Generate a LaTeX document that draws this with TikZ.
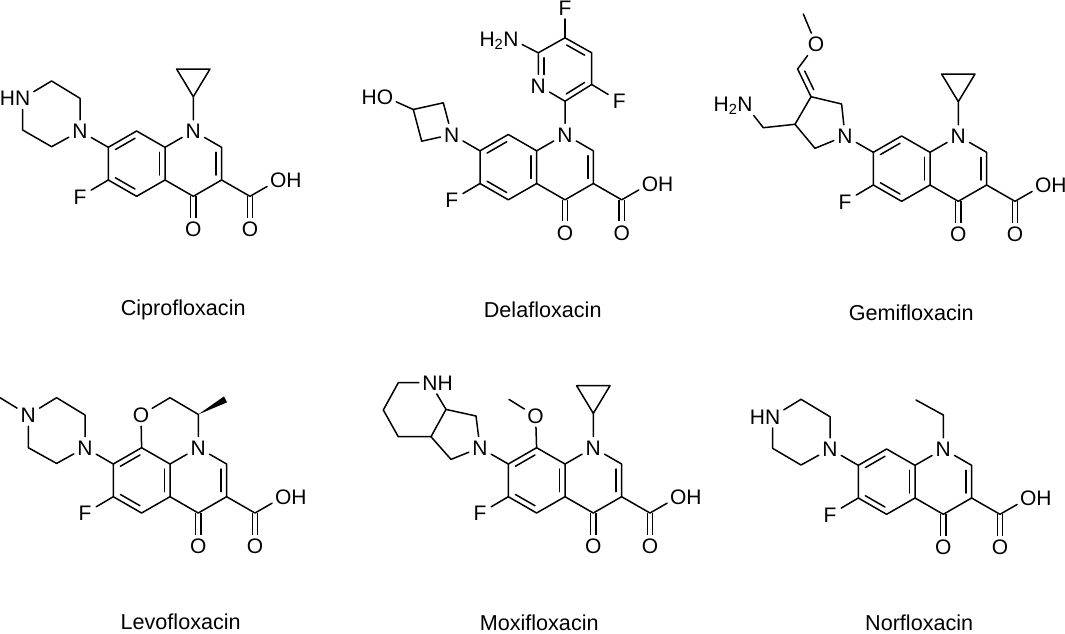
\documentclass[tikz,border=0pt]{standalone}
\usepackage{fontspec}
\setmainfont{Liberation Sans}
\usetikzlibrary{positioning,calc}
\tikzset{
  bond/.style={line width=1.5pt,line cap=round,line join=round},
  dblbond/.style={line width=1.5pt,double,double distance=3.8pt},
  atom/.style={rectangle,inner sep=0pt,minimum size=22pt,text height=15pt,text depth=0pt,
    font=\fontsize{21}{21}\selectfont},
  drugname/.style={anchor=base,inner sep=0pt,font=\fontsize{21.6}{22}\selectfont}
}
% inner line of a double bond, on the left of a->b
\newcommand{\inbond}[3][5pt]{\draw[bond,shorten <=5pt,shorten >=#1]
  ($(#2)!5.5pt!90:(#3)$) -- ($(#3)!5.5pt!-90:(#2)$);}
% quinolone core, origin on N1
\newcommand{\quinolone}{%
  \node[atom] (N1) at (0,0) {N};
  \coordinate (C2) at (28.3,16.3); \coordinate (C3) at (28.3,49);
  \coordinate (C4) at (0,65.3); \coordinate (C4a) at (-28.3,49);
  \coordinate (C8a) at (-28.3,16.3); \coordinate (C8) at (-56.7,0);
  \coordinate (C7) at (-85,16.3); \coordinate (C6) at (-85,49);
  \coordinate (C5) at (-56.7,65.3); \coordinate (CX) at (56.7,65.3);
  \node[atom] (O4) at (0,98) {O};
  \node[atom] (OX) at (56.7,98) {O};
  \node[atom] (OH) at (85,49) {O\rlap{H}};
  \node[atom] (F) at (-113.3,65.7) {F};
  \node[atom] (N7) at (-113.3,0) {N};
  \draw[dblbond] (C4) -- (O4);
  \draw[dblbond] (CX) -- (OX);
  \draw[bond] (N1) -- (C2) -- (C3) -- (C4) -- (C4a) -- (C8a) -- (N1);
  \draw[bond] (C8a) -- (C8) -- (C7) -- (C6) -- (C5) -- (C4a);
  \draw[bond] (C3) -- (CX) -- (OH);
  \draw[bond] (C6) -- (F);
  \draw[bond] (C7) -- (N7);
  \inbond{C8}{C7} \inbond{C6}{C5} \inbond{C4a}{C8a} \inbond{C3}{C2}
}
% cyclopropyl on N1
\newcommand{\cyclopropyl}{%
  \coordinate (R1) at (0,-34.3); \coordinate (R2) at (-16.7,-62); \coordinate (R3) at (16.7,-62);
  \draw[bond] (N1) -- (R1) -- (R2) -- (R3) -- (R1);
}
\begin{document}
\begin{tikzpicture}[x=1pt,y=-1pt]
  \useasboundingbox (0,0) rectangle (1065,633);
  % Ciprofloxacin
  \begin{scope}[shift={(193.3,131)},name prefix=cip-]
    \quinolone \cyclopropyl
    \coordinate (P2) at (-113.3,-32.7); \coordinate (P3) at (-141.7,-50);
    \node[atom] (P4) at (-170.7,-32.7) {\llap{H}N};
    \coordinate (P5) at (-170.7,-1); \coordinate (P6) at (-141.7,15.7);
    \draw[bond] (N7) -- (P2) -- (P3) -- (P4) -- (P5) -- (P6) -- (N7);
  \end{scope}
  \node[drugname] (cipname) at (183.2,315) {Ciprofloxacin};
  % Delafloxacin
  \begin{scope}[shift={(565,134.5)},name prefix=del-]
    \quinolone
    \coordinate (Y2) at (0,-33.3); \node[atom] (YN) at (-26.7,-49) {N};
    \coordinate (Y6) at (-26.7,-81.7); \coordinate (Y5) at (0,-96.7);
    \coordinate (Y4) at (26.7,-81.7); \coordinate (Y3) at (26.7,-50);
    \node[atom] (FA) at (0,-126.7) {F};
    \node[atom] (FB) at (54.3,-33.3) {F};
    \node[atom] (NH) at (-54,-95.7) {\llap{H\textsubscript{2}}N};
    \draw[bond] (N1) -- (Y2) -- (YN) -- (Y6) -- (Y5) -- (Y4) -- (Y3) -- (Y2);
    \draw[bond] (Y5) -- (FA);
    \draw[bond] (Y3) -- (FB);
    \draw[bond] (Y6) -- (NH);
    \inbond[11pt]{Y6}{YN} \inbond{Y2}{Y3} \inbond{Y4}{Y5}
    \coordinate (A1) at (-143.3,6.7); \coordinate (A2) at (-151.7,-25);
    \coordinate (A3) at (-121.7,-31.7);
    \node[atom] (AO) at (-180,-37.7) {\llap{H}O};
    \draw[bond] (N7) -- (A1) -- (A2) -- (A3) -- (N7);
    \draw[bond] (A2) -- (AO);
  \end{scope}
  \node[drugname] (delname) at (542.7,317.5) {Delafloxacin};
  % Gemifloxacin
  \begin{scope}[shift={(958.3,136)},name prefix=gem-]
    \quinolone \cyclopropyl
    \coordinate (G1) at (-143.3,12.3); \coordinate (G2) at (-163.3,-11.7);
    \coordinate (G3) at (-147.3,-39.3); \coordinate (G4) at (-116.7,-32);
    \coordinate (GC) at (-195,-8.3);
    \node[atom] (GN) at (-213.3,-31.7) {\llap{H\textsubscript{2}}N};
    \coordinate (GE) at (-160.7,-67);
    \node[atom] (GO) at (-142.3,-91.7) {O};
    \coordinate (GM) at (-155,-122);
    \draw[bond] (N7) -- (G1) -- (G2) -- (G3) -- (G4) -- (N7);
    \draw[bond] (G2) -- (GC) -- (GN);
    \draw[bond] (G3) -- (GE) -- (GO) -- (GM);
    \inbond{GE}{G3}
  \end{scope}
  \node[drugname] (gemname) at (911.2,320.7) {Gemifloxacin};
  % Levofloxacin
  \begin{scope}[shift={(198.3,447.7)},name prefix=lev-]
    \quinolone
    \node[atom] (LO) at (-57.3,-32.7) {O};
    \coordinate (L1) at (-28.3,-50); \coordinate (L2) at (0,-33.3);
    \coordinate (W1) at (25.7,-51.3); \coordinate (W2) at (28.7,-45.3);
    \draw[bond] (C8) -- (LO) -- (L1) -- (L2) -- (N1);
    \fill (L2) -- (W1) -- (W2) -- cycle;
    \coordinate (P2) at (-113.3,-32.7); \coordinate (P3) at (-141.7,-50);
    \node[atom] (P4) at (-170,-32.7) {N};
    \coordinate (P5) at (-170,0); \coordinate (P6) at (-141.7,15.7);
    \coordinate (PM) at (-198.3,-50);
    \draw[bond] (N7) -- (P2) -- (P3) -- (P4) -- (P5) -- (P6) -- (N7);
    \draw[bond] (P4) -- (PM);
  \end{scope}
  \node[drugname] (levname) at (180.7,629.3) {Levofloxacin};
  % Moxifloxacin
  \begin{scope}[shift={(593.3,447.7)},name prefix=mox-]
    \quinolone \cyclopropyl
    \node[atom] (MO) at (-57.7,-31.7) {O};
    \coordinate (MM) at (-84.3,-48.3);
    \draw[bond] (C8) -- (MO) -- (MM);
    \coordinate (M1) at (-142.3,11.7); \coordinate (M2) at (-162.3,-11);
    \coordinate (M3) at (-147.3,-38.3); \coordinate (M4) at (-117.3,-31.7);
    \node[atom] (MN) at (-163.3,-65) {N\rlap{H}};
    \coordinate (M5) at (-195,-65); \coordinate (M6) at (-210,-37.7);
    \coordinate (M7) at (-195,-11);
    \draw[bond] (N7) -- (M1) -- (M2) -- (M3) -- (M4) -- (N7);
    \draw[bond] (M3) -- (MN) -- (M5) -- (M6) -- (M7) -- (M2);
  \end{scope}
  \node[drugname] (moxname) at (539.2,630.5) {Moxifloxacin};
  % Norfloxacin
  \begin{scope}[shift={(943.3,449)},name prefix=nor-]
    \quinolone
    \coordinate (E1) at (0,-34); \coordinate (E2) at (-27.3,-49);
    \draw[bond] (N1) -- (E1) -- (E2);
    \coordinate (P2) at (-113.3,-32.3); \coordinate (P3) at (-142.3,-49.7);
    \node[atom] (P4) at (-170.7,-32.3) {\llap{H}N};
    \coordinate (P5) at (-170.7,-0.7); \coordinate (P6) at (-142.3,16);
    \draw[bond] (N7) -- (P2) -- (P3) -- (P4) -- (P5) -- (P6) -- (N7);
  \end{scope}
  \node[drugname] (norname) at (919.2,630.5) {Norfloxacin};
\end{tikzpicture}
\end{document}
